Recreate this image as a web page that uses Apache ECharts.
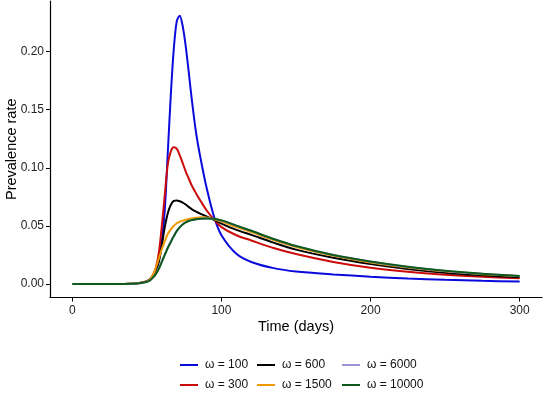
<!DOCTYPE html>
<html>
<head>
    <meta charset="utf-8">
    <title>Prevalence rate</title>
    <script src="https://cdn.jsdelivr.net/npm/echarts@6/dist/echarts.min.js"></script>
    <style>
        html, body { margin: 0; padding: 0; background: #fff; }
    </style>
</head>
<body>
    <div id="main" style="width: 546px;height:393px;"></div>
    <script type="text/javascript">
        // time points (days) the curves were read at
        var days = [0, 30, 40, 45, 50, 52, 54, 56, 58, 60, 62, 64, 66, 68, 70, 72, 74, 76, 78, 80,
            83, 86, 90, 95, 100, 110, 120, 135, 150, 175, 200, 225, 250, 275, 300];

        var w100 = [0, 0, 0.0003, 0.0008, 0.0025, 0.004, 0.007, 0.012, 0.021, 0.037, 0.064, 0.113, 0.162, 0.202, 0.226, 0.231, 0.222, 0.205, 0.183, 0.160,
            0.130, 0.108, 0.083, 0.058, 0.042, 0.026, 0.019, 0.0137, 0.0108, 0.0083, 0.0063, 0.0048, 0.0036, 0.0028, 0.0021];
        var w300 = [0, 0, 0.0003, 0.0008, 0.0025, 0.004, 0.0075, 0.014, 0.027, 0.050, 0.077, 0.103, 0.114, 0.1178, 0.1165, 0.111, 0.104, 0.097, 0.091, 0.085,
            0.078, 0.0715, 0.0635, 0.0555, 0.049, 0.042, 0.0375, 0.031, 0.0258, 0.019, 0.014, 0.0105, 0.008, 0.0062, 0.0049];
        var w600 = [0, 0, 0.0003, 0.0008, 0.0025, 0.004, 0.007, 0.012, 0.019, 0.033, 0.049, 0.061, 0.068, 0.0715, 0.0718, 0.0712, 0.0700, 0.0684, 0.0664, 0.0645,
            0.0623, 0.0604, 0.0582, 0.0552, 0.052, 0.0466, 0.0423, 0.0356, 0.0296, 0.0226, 0.0172, 0.013, 0.0098, 0.0075, 0.0058];
        var w1500 = [0, 0, 0.0003, 0.0008, 0.0025, 0.004, 0.0075, 0.014, 0.022, 0.030, 0.037, 0.043, 0.047, 0.050, 0.0523, 0.0536, 0.0545, 0.0553, 0.0559, 0.0564,
            0.057, 0.0574, 0.0573, 0.0558, 0.0537, 0.049, 0.0447, 0.0378, 0.0318, 0.0243, 0.0186, 0.0142, 0.0109, 0.0085, 0.0067];
        var w6000 = [0, 0, 0.0002, 0.0006, 0.002, 0.0031, 0.0056, 0.0088, 0.0134, 0.0195, 0.0256, 0.0316, 0.0366, 0.0414, 0.0458, 0.049, 0.0515, 0.0531, 0.0543, 0.0551,
            0.0558, 0.0563, 0.0565, 0.0561, 0.0547, 0.0502, 0.0457, 0.0387, 0.0326, 0.0249, 0.0192, 0.0147, 0.0113, 0.0088, 0.0069];
        var w10000 = [0, 0, 0.0002, 0.0006, 0.002, 0.003, 0.0055, 0.0085, 0.013, 0.019, 0.025, 0.031, 0.036, 0.041, 0.0455, 0.0488, 0.0513, 0.053, 0.0542, 0.055,
            0.0557, 0.0562, 0.0565, 0.0562, 0.0548, 0.0503, 0.0458, 0.0388, 0.0327, 0.025, 0.0193, 0.0148, 0.0114, 0.0088, 0.0069];

        var seriesNames = ['ω = 100', 'ω = 300', 'ω = 600', 'ω = 1500', 'ω = 6000', 'ω = 10000'];
        var seriesValues = [w100, w300, w600, w1500, w6000, w10000];
        var seriesColors = ['#0a0adc', '#cc0a0a', '#000000', '#f19a00', '#9a94d6', '#0e5a1a'];

        var xTicks = [0, 100, 200, 300];
        var yTicks = [0, 0.05, 0.10, 0.15, 0.20];

        var dom = document.getElementById('main');
        var myChart = echarts.init(dom, null, { renderer: 'canvas' });

        var series = seriesNames.map(function (name, i) {
            return {
                name: name,
                type: 'line',
                smooth: 0.3,
                symbol: 'none',
                lineStyle: { color: seriesColors[i], width: 2 },
                itemStyle: { color: seriesColors[i] },
                data: days.map(function (d, k) { return [d, seriesValues[i][k]]; })
            };
        });

        // one vertical legend per column, so the columns line up like the original
        function legendCol(left, items) {
            return {
                orient: 'vertical',
                left: left,
                top: 358,
                height: 35,
                padding: 0,
                icon: 'rect',
                itemWidth: 18,
                itemHeight: 2,
                itemGap: 6,
                selectedMode: false,
                textStyle: { fontSize: 12, color: '#111', lineHeight: 14, padding: [0, 0, 0, 2] },
                data: items
            };
        }

        var axisText = { fontSize: 12, color: '#222' };

        var option = {
            animation: false,
            textStyle: { fontFamily: 'Liberation Sans, Arial, sans-serif' },
            grid: { left: 50, right: 4, top: 1, bottom: 95.5, containLabel: false, outerBoundsMode: 'none' },
            legend: [
                legendCol(180, [seriesNames[0], seriesNames[1]]),
                legendCol(257, [seriesNames[2], seriesNames[3]]),
                legendCol(342, [seriesNames[4], seriesNames[5]])
            ],
            xAxis: {
                type: 'value',
                min: -15,
                max: 315,
                name: 'Time (days)',
                nameLocation: 'middle',
                nameGap: 22,
                nameMoveOverlap: false,
                nameTextStyle: { fontSize: 14.5, color: '#000' },
                splitLine: { show: false },
                axisLine: { onZero: false, lineStyle: { color: '#000', width: 1.2 } },
                axisTick: { length: 4, lineStyle: { color: '#000' }, customValues: xTicks },
                axisLabel: Object.assign({ margin: 7, customValues: xTicks }, axisText)
            },
            yAxis: {
                type: 'value',
                min: -0.0116,
                max: 0.2436,
                name: 'Prevalence rate',
                nameLocation: 'middle',
                nameGap: 31,
                nameMoveOverlap: false,
                nameTextStyle: { fontSize: 14.5, color: '#000' },
                splitLine: { show: false },
                axisLine: { show: true, onZero: false, lineStyle: { color: '#000', width: 1.2 } },
                axisTick: { show: true, length: 4, lineStyle: { color: '#000' }, customValues: yTicks },
                axisLabel: Object.assign({
                    margin: 6,
                    customValues: yTicks,
                    formatter: function (v) { return v.toFixed(2); }
                }, axisText)
            },
            series: series
        };

        myChart.setOption(option);
    </script>
</body>
</html>
